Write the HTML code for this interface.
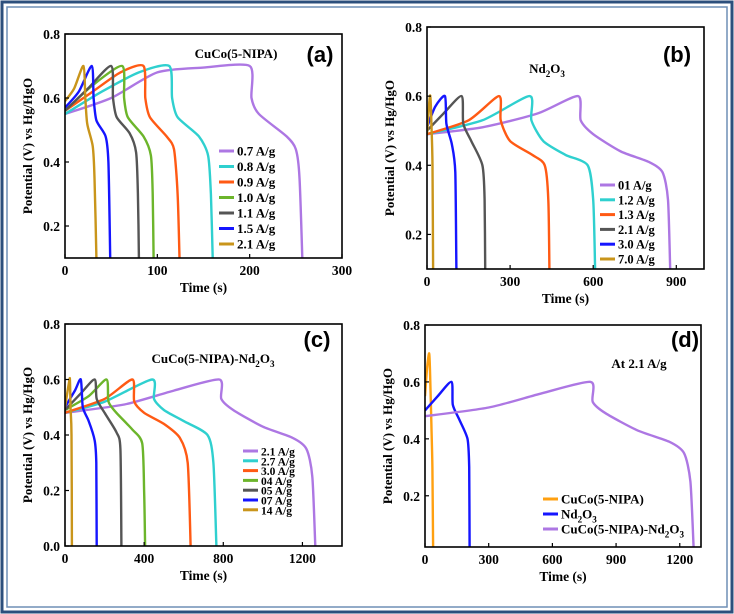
<!DOCTYPE html>
<html><head><meta charset="utf-8">
<style>
html,body{margin:0;padding:0;background:#fff;}
svg{display:block;font-family:"Liberation Serif",serif;}
</style></head>
<body>
<svg id="fig" width="734" height="614" viewBox="0 0 734 614" xmlns="http://www.w3.org/2000/svg">
<rect x="2" y="2" width="730" height="610" fill="none" stroke="#2c4f7c" stroke-width="3"/>
<rect x="7" y="7" width="720" height="600" fill="none" stroke="#6f8fb5" stroke-width="1.5"/>
<g id="root"></g>
</svg>
<script>
// Panel (a) CuCo(5-NIPA)
const aLabels = ["0.7 A/g","0.8 A/g","0.9 A/g","1.0 A/g","1.1 A/g","1.5 A/g","2.1 A/g"];
const aSeries = [
 [[0,0.55],[50,0.6],[100,0.68],[150,0.695],[200,0.70],[202,0.6],[210,0.55],[240,0.48],[250,0.44],[254,0.35],[257,0.1]],
 [[0,0.55],[40,0.62],[80,0.68],[113,0.70],[116,0.6],[122,0.54],[145,0.48],[155,0.42],[158,0.3],[160,0.1]],
 [[0,0.56],[30,0.62],[60,0.68],[85,0.70],[87,0.6],[92,0.54],[110,0.48],[118,0.44],[122,0.3],[124,0.1]],
 [[0,0.56],[30,0.64],[62,0.70],[64,0.6],[68,0.54],[85,0.48],[93,0.42],[95,0.3],[96,0.1]],
 [[0,0.56],[25,0.63],[50,0.70],[52,0.6],[56,0.54],[70,0.49],[77,0.43],[79,0.3],[80,0.1]],
 [[0,0.57],[15,0.62],[29,0.70],[31,0.6],[34,0.53],[44,0.48],[47,0.40],[49,0.1]],
 [[0,0.59],[10,0.63],[20,0.70],[22,0.6],[24,0.52],[30,0.45],[32,0.35],[34,0.1]]
];
const aXTicks = [0,100,200,300];
const aYTicks = [0.2,0.4,0.6,0.8];
// Panel (b) Nd2O3
const bLabels = ["01 A/g","1.2 A/g","1.3 A/g","2.1 A/g","3.0 A/g","7.0  A/g"];
const bSeries = [
 [[0,0.49],[200,0.51],[400,0.55],[545,0.60],[555,0.53],[600,0.49],[700,0.44],[800,0.41],[850,0.38],[870,0.3],[878,0.1]],
 [[0,0.49],[200,0.53],[370,0.60],[377,0.53],[420,0.47],[500,0.43],[580,0.40],[600,0.3],[607,0.1]],
 [[0,0.49],[150,0.53],[260,0.60],[266,0.53],[300,0.47],[380,0.43],[425,0.40],[438,0.3],[442,0.1]],
 [[0,0.5],[60,0.55],[125,0.60],[131,0.52],[160,0.47],[200,0.40],[208,0.3],[210,0.1]],
 [[0,0.51],[30,0.57],[65,0.60],[70,0.52],[90,0.46],[102,0.38],[106,0.1]],
 [[0,0.49],[8,0.58],[12,0.60],[16,0.52],[20,0.40],[22,0.1]]
];
const bXTicks = [0,300,600,900];
const bYTicks = [0.2,0.4,0.6,0.8];
// Panel (c) CuCo(5-NIPA)-Nd2O3
const cLabels = ["2.1 A/g","2.7 A/g","3.0 A/g","04  A/g","05  A/g","07  A/g","14  A/g"];
const cSeries = [
 [[0,0.48],[300,0.51],[550,0.56],[780,0.60],[790,0.53],[850,0.49],[1000,0.43],[1150,0.39],[1220,0.35],[1250,0.25],[1265,0.0]],
 [[0,0.48],[200,0.52],[440,0.60],[450,0.53],[500,0.49],[600,0.45],[720,0.40],[750,0.30],[765,0.0]],
 [[0,0.48],[200,0.53],[340,0.60],[350,0.52],[400,0.48],[500,0.44],[580,0.39],[620,0.30],[635,0.0]],
 [[0,0.49],[120,0.54],[210,0.60],[220,0.52],[260,0.48],[340,0.42],[390,0.37],[400,0.2],[405,0]],
 [[0,0.49],[80,0.55],[150,0.60],[160,0.53],[200,0.48],[260,0.41],[280,0.35],[285,0]],
 [[0,0.50],[50,0.56],[80,0.60],[90,0.50],[120,0.45],[150,0.38],[158,0.3],[160,0]],
 [[0,0.5],[20,0.59],[25,0.60],[28,0.5],[33,0.4],[35,0]]
];
const cXTicks = [0,400,800,1200];
const cYTicks = [0.0,0.2,0.4,0.6,0.8];
// Panel (d) At 2.1 A/g
const dLabels = ["CuCo(5-NIPA)","Nd|2|O|3","CuCo(5-NIPA)-Nd|2|O|3"];
const dSeries = [
 [[0,0.55],[10,0.65],[20,0.70],[25,0.6],[30,0.45],[35,0.3],[38,0.02]],
 [[0,0.5],[60,0.55],[125,0.60],[131,0.52],[160,0.47],[200,0.40],[208,0.3],[210,0.02]],
 [[0,0.48],[300,0.51],[550,0.56],[780,0.60],[790,0.53],[850,0.49],[1000,0.43],[1150,0.39],[1220,0.35],[1250,0.25],[1265,0.02]]
];
const dXTicks = [0,300,600,900,1200];
const dYTicks = [0.2,0.4,0.6,0.8];

const NS="http://www.w3.org/2000/svg";
const root=document.getElementById('root');
function mk(tag,attrs,parent){const e=document.createElementNS(NS,tag);for(const k in attrs)e.setAttribute(k,attrs[k]);(parent||root).appendChild(e);return e;}
function setText(el,label){
  const parts=label.split('|');
  parts.forEach((p,i)=>{const t=mk('tspan',{},el);if(i%2===1){t.setAttribute('font-size','0.7em');t.setAttribute('dy','4');}else if(i>0){t.setAttribute('dy','-4');}t.textContent=p;});
}
function smoothPath(pts){
  const k=0.12;
  let d='M'+pts[0][0].toFixed(1)+','+pts[0][1].toFixed(1);
  for(let i=0;i<pts.length-1;i++){
    const p0=pts[Math.max(0,i-1)],p1=pts[i],p2=pts[i+1],p3=pts[Math.min(pts.length-1,i+2)];
    const c1=[p1[0]+(p2[0]-p0[0])*k,p1[1]+(p2[1]-p0[1])*k];
    const c2=[p2[0]-(p3[0]-p1[0])*k,p2[1]-(p3[1]-p1[1])*k];
    d+=' C'+c1.map(v=>v.toFixed(1)).join(',')+' '+c2.map(v=>v.toFixed(1)).join(',')+' '+p2.map(v=>v.toFixed(1)).join(',');
  }
  return d;
}
function panel(cfg){
  const g=mk('g',{});
  
  
  const {L,R,T,B,x0,x1,y0,y1}=cfg;
  const sx=v=>L+(v-x0)/(x1-x0)*(R-L);
  const sy=v=>B-(v-y0)/(y1-y0)*(B-T);
  const clip=mk('clipPath',{id:'clip'+cfg.id},g);
  mk('rect',{x:L,y:T,width:R-L,height:B-T},clip);
  cfg.series.forEach((s,i)=>{
    const p=mk('path',{d:smoothPath(s.map(q=>[sx(q[0]),sy(q[1])])),fill:'none',stroke:cfg.colors[i],'stroke-width':2.4,'stroke-linejoin':'round','clip-path':'url(#clip'+cfg.id+')'},g);
    
    
  });
  const box=mk('rect',{x:L,y:T,width:R-L,height:B-T,fill:'none',stroke:'#000','stroke-width':1.6},g);
  
  
  cfg.xt.forEach(v=>{
    const x=sx(v);
    mk('line',{x1:x,x2:x,y1:B,y2:B-4,stroke:'#000','stroke-width':1.2},g);
    const t=mk('text',{x:x,y:B+17,'text-anchor':'middle','font-size':13.5,'font-weight':'bold'},g);
    t.textContent=String(v);
    
    
  });
  cfg.yt.forEach(v=>{
    const y=sy(v);
    mk('line',{x1:L,x2:L+4,y1:y,y2:y,stroke:'#000','stroke-width':1.2},g);
    const t=mk('text',{x:L-5,y:y+5,'text-anchor':'end','font-size':13.5,'font-weight':'bold'},g);
    t.textContent=v.toFixed(1);
    
    
  });
  const xt=mk('text',{x:(L+R)/2,y:B+34,'text-anchor':'middle','font-size':13.5,'font-weight':'bold'},g);
  xt.textContent='Time (s)';
  
  
  const yx=L-33,yy=(T+B)/2;
  const yt=mk('text',{x:yx,y:yy,'text-anchor':'middle','font-size':13,'font-weight':'bold',transform:`rotate(-90 ${yx} ${yy})`},g);
  yt.textContent='Potential (V) vs Hg/HgO';
  
  
  const tt=mk('text',{x:cfg.title[1],y:cfg.title[2],'text-anchor':'middle','font-size':13,'font-weight':'bold'},g);
  setText(tt,cfg.title[0]);
  
  
  const pl=mk('text',{x:cfg.tag[1],y:cfg.tag[2],'text-anchor':'middle','font-size':22,'font-weight':'bold','font-family':'Liberation Sans, sans-serif'},g);
  pl.textContent=cfg.tag[0];
  
  
  cfg.labels.forEach((lab,i)=>{
    const y=cfg.leg.y+i*cfg.leg.dy;
    const lg=mk('g',{},g);
    
    
    mk('line',{x1:cfg.leg.x,x2:cfg.leg.x+15,y1:y,y2:y,stroke:cfg.colors[i],'stroke-width':3},lg);
    const t=mk('text',{x:cfg.leg.x+18,y:y+4.5,'font-size':cfg.leg.fs,'font-weight':'bold'},lg);
    setText(t,lab);
  });
}
const C6=['#ad77e3','#2fd0cf','#ff5a14','#6cb52b','#555555','#1515ff','#c9951b'];
panel({id:'a',L:65,R:342,T:34,B:258,x0:0,x1:300,y0:0.1,y1:0.8,series:aSeries,labels:aLabels,xt:aXTicks,yt:aYTicks,colors:C6,
  title:['CuCo(5-NIPA)',236,58],tag:['(a)',320,62],leg:{x:219,y:151,dy:15.5,fs:13}});
panel({id:'b',L:427,R:704,T:27,B:269,x0:0,x1:1000,y0:0.1,y1:0.8,series:bSeries,labels:bLabels,xt:bXTicks,yt:bYTicks,
  colors:['#ad77e3','#2fd0cf','#ff5a14','#555555','#1515ff','#c9951b'],
  title:['Nd|2|O|3',547,73],tag:['(b)',677,62],leg:{x:600,y:185,dy:14.8,fs:12.5}});
panel({id:'c',L:65,R:342,T:324,B:546,x0:0,x1:1400,y0:0,y1:0.8,series:cSeries,labels:cLabels,xt:cXTicks,yt:cYTicks,colors:C6,
  title:['CuCo(5-NIPA)-Nd|2|O|3',213,363],tag:['(c)',317,347],leg:{x:243,y:451,dy:9.8,fs:11.5}});
panel({id:'d',L:425,R:701,T:325,B:547,x0:0,x1:1300,y0:0.02,y1:0.8,series:dSeries,labels:dLabels,xt:dXTicks,yt:dYTicks,
  colors:['#ffa010','#1515ff','#ad77e3'],
  title:['At  2.1 A/g',639,368],tag:['(d)',685,347],leg:{x:543,y:499,dy:15,fs:13}});
</script>
</body></html>
